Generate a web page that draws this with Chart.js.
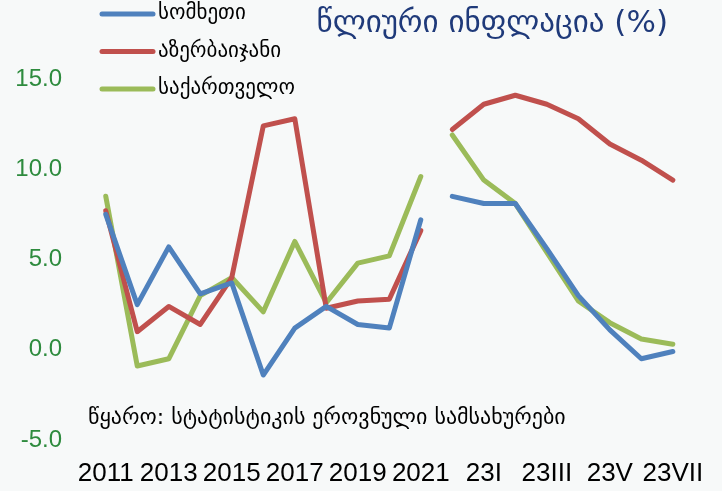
<!DOCTYPE html>
<html>
<head>
<meta charset="utf-8">
<script src="https://cdn.jsdelivr.net/npm/chart.js@4"></script>
<style>
  html, body { margin: 0; padding: 0; background: #f7f9f9; }
  #wrap { width: 722px; height: 491px; position: relative; }
</style>
</head>
<body>
<div id="wrap"><canvas id="chart1" width="722" height="491"></canvas></div>
<script>
const labels = ['2011','2012','2013','2014','2015','2016','2017','2018','2019','2020','2021',
                '22XII','23I','23II','23III','23IV','23V','23VI','23VII'];

// annual values 2011-2021
const armeniaYear    = [7.5, 2.5, 5.7, 3.1, 3.7, -1.4, 1.2, 2.4, 1.4, 1.2, 7.2];
const azerbaijanYear = [7.7, 1.0, 2.4, 1.4, 4.0, 12.4, 12.8, 2.3, 2.7, 2.8, 6.6];
const georgiaYear    = [8.5, -0.9, -0.5, 3.0, 4.0, 2.1, 6.0, 2.6, 4.8, 5.2, 9.6];

// monthly values
const armeniaMonth    = [8.5, 8.1, 8.1, 5.6, 3.0, 1.1, -0.5, -0.1];
const azerbaijanMonth = [12.2, 13.6, 14.1, 13.6, 12.8, 11.4, 10.5, 9.4];
const georgiaMonth    = [11.9, 9.4, 8.1, 5.4, 2.7, 1.5, 0.6, 0.3];

const seriesNames = ['სომხეთი', 'აზერბაიჯანი', 'საქართველო'];
const colors = ['#4f81bd', '#c0504d', '#9bbb59'];

const nYears = armeniaYear.length;
const pad = n => Array(n).fill(null);
const yearPart = arr => arr.concat(pad(labels.length - nYears));
const monthPart = arr => pad(nYears).concat(arr);

function lineSet(name, data, color, inLegend) {
  return {
    label: name,
    data: data,
    borderColor: color,
    backgroundColor: color,
    borderWidth: 5,
    pointRadius: 0,
    tension: 0,
    spanGaps: false,
    clip: false,
    borderJoinStyle: 'round',
    borderCapStyle: 'round',
    inLegend: inLegend
  };
}

const datasets = [
  lineSet(seriesNames[0], yearPart(armeniaYear), colors[0], true),
  lineSet(seriesNames[1], yearPart(azerbaijanYear), colors[1], true),
  lineSet(seriesNames[2], yearPart(georgiaYear), colors[2], true),
  lineSet(seriesNames[0], monthPart(armeniaMonth), colors[0], false),
  lineSet(seriesNames[1], monthPart(azerbaijanMonth), colors[1], false),
  lineSet(seriesNames[2], monthPart(georgiaMonth), colors[2], false)
];

const geoFont = "'DejaVu Sans', 'Noto Sans', sans-serif";
const numFont = "'Liberation Sans Narrow', 'Liberation Sans', 'DejaVu Sans', sans-serif";

// legend, title and source note
const extras = {
  id: 'extras',
  afterDraw(chart) {
    const ctx = chart.ctx;
    ctx.save();
    let y = 14;
    chart.data.datasets.forEach(ds => {
      if (!ds.inLegend) return;
      ctx.strokeStyle = ds.borderColor;
      ctx.lineWidth = 5;
      ctx.lineCap = 'round';
      ctx.beginPath();
      ctx.moveTo(102, y);
      ctx.lineTo(153, y);
      ctx.stroke();
      ctx.fillStyle = '#000';
      ctx.font = "21px " + geoFont;
      ctx.textBaseline = 'middle';
      ctx.textAlign = 'left';
      ctx.fillText(ds.label, 158, y);
      y += 37.5;
    });
    ctx.fillStyle = '#1f3a7a';
    ctx.font = "31px " + geoFont;
    ctx.textAlign = 'right';
    ctx.fillText('წლიური ინფლაცია (%)', 668, 24);
    ctx.fillStyle = '#000';
    ctx.font = "22px " + geoFont;
    ctx.textAlign = 'left';
    ctx.fillText('წყარო: სტატისტიკის ეროვნული სამსახურები', 88, 418);
    ctx.restore();
  }
};

new Chart(document.getElementById('chart1'), {
  type: 'line',
  data: { labels: labels, datasets: datasets },
  options: {
    responsive: false,
    animation: false,
    layout: { padding: { top: 79, right: 31, left: 0, bottom: 0 } },
    plugins: {
      legend: { display: false },
      tooltip: { enabled: false }
    },
    scales: {
      x: {
        offset: true,
        grid: { display: false, drawTicks: false },
        border: { display: false },
        ticks: {
          autoSkip: false,
          maxRotation: 0,
          padding: 18,
          color: '#000',
          font: { family: numFont, size: 26 },
          callback: function (v, i) { return i % 2 === 0 ? labels[i] : ''; }
        },
        afterFit: s => { s.height = 51; }
      },
      y: {
        min: -5,
        max: 15,
        grid: { display: false, drawTicks: false },
        border: { display: false },
        ticks: {
          stepSize: 5,
          padding: 28,
          color: '#2e8b3e',
          font: { family: numFont, size: 24 },
          callback: v => v.toFixed(1)
        },
        afterFit: s => { s.width = 90; }
      }
    }
  },
  plugins: [extras]
});
</script>
</body>
</html>
